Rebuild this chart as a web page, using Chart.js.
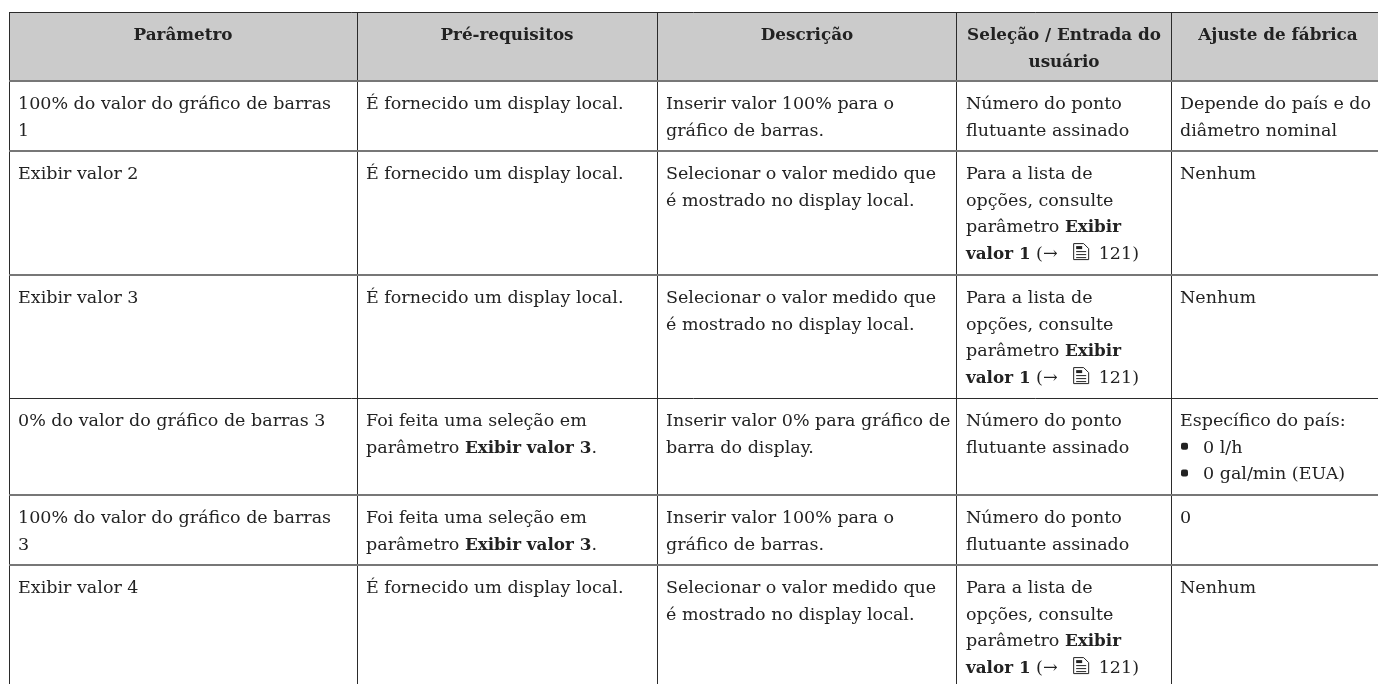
<!DOCTYPE html>
<html lang="pt">
<head>
<meta charset="utf-8">
<title>Parâmetros do display</title>
<style>
  html, body { margin: 0; padding: 0; background: #fff; overflow: hidden; }
  canvas { display: block; }
</style>
</head>
<body>
<canvas id="tableChart" width="1378" height="684"></canvas>
<script src="https://cdn.jsdelivr.net/npm/chart.js@4/dist/chart.umd.js"></script>
<script>
const headers = [
  ["Parâmetro"],
  ["Pré-requisitos"],
  ["Descrição"],
  ["Seleção / Entrada do", "usuário"],
  ["Ajuste de fábrica"],
];

const listaOpcoes = ["Para a lista de", "opções, consulte", "parâmetro **Exibir**", "**valor 1** (→ {doc} 121)"];
const pontoFlutuante = ["Número do ponto", "flutuante assinado"];
const displayLocal = ["É fornecido um display local."];
const valorMedido = ["Selecionar o valor medido que", "é mostrado no display local."];
const selecaoFeita = ["Foi feita uma seleção em", "parâmetro **Exibir valor 3**."];

const parametros = [
  ["100% do valor do gráfico de barras", "1"],
  ["Exibir valor 2"],
  ["Exibir valor 3"],
  ["0% do valor do gráfico de barras 3"],
  ["100% do valor do gráfico de barras", "3"],
  ["Exibir valor 4"],
];
const prerequisitos = [displayLocal, displayLocal, displayLocal, selecaoFeita, selecaoFeita, displayLocal];
const descricoes = [
  ["Inserir valor 100% para o", "gráfico de barras."],
  valorMedido,
  valorMedido,
  ["Inserir valor 0% para gráfico de", "barra do display."],
  ["Inserir valor 100% para o", "gráfico de barras."],
  valorMedido,
];
const selecoes = [pontoFlutuante, listaOpcoes, listaOpcoes, pontoFlutuante, pontoFlutuante, listaOpcoes];
const ajustes = [
  ["Depende do país e do", "diâmetro nominal"],
  ["Nenhum"],
  ["Nenhum"],
  ["Específico do país:", "{bullet}0 l/h", "{bullet}0 gal/min (EUA)"],
  ["0"],
  ["Nenhum"],
];
const columns = [parametros, prerequisitos, descricoes, selecoes, ajustes];

// Bordas da tabela, em unidades dos eixos (a última coluna passa da janela)
const columnEdges = [9, 357, 657, 957, 1171, 1385];
const rowEdges = [12, 81, 151, 275, 398, 495, 565];
const thinRows = [12, 398];

const FONT = '"DejaVu Serif"';
const FONT_SIZE = 17.5;
const BOLD_SIZE = 16.8;
const LINE_HEIGHT = 26.7;
const FIRST_BASELINE = 28;
const CELL_PADDING = 9;
const BULLET_INDENT = 23;

function setFont(ctx, bold) {
  ctx.font = bold ? `bold ${BOLD_SIZE}px ${FONT}` : `${FONT_SIZE}px ${FONT}`;
}

function drawDocIcon(ctx, x, baseline) {
  const top = baseline - 16;
  ctx.save();
  ctx.strokeStyle = "#222";
  ctx.lineWidth = 1;
  ctx.beginPath();
  ctx.moveTo(x + 0.5, top + 0.5);
  ctx.lineTo(x + 10.5, top + 0.5);
  ctx.lineTo(x + 15.5, top + 5.5);
  ctx.lineTo(x + 15.5, top + 16.5);
  ctx.lineTo(x + 0.5, top + 16.5);
  ctx.closePath();
  ctx.stroke();
  ctx.fillStyle = "#222";
  ctx.fillRect(x + 3, top + 3, 6, 3);
  ctx.fillRect(x + 3, top + 8, 10, 1);
  ctx.fillRect(x + 3, top + 11, 10, 1);
  ctx.fillRect(x + 3, top + 14, 10, 1);
  ctx.restore();
}

// Desenha uma linha com trechos em negrito (**...**) e os marcadores {doc} e {bullet}
function drawLine(ctx, line, x, baseline) {
  let cursor = x;
  if (line.startsWith("{bullet}")) {
    ctx.fillStyle = "#222";
    ctx.beginPath();
    ctx.roundRect(x + 1, baseline - 10, 7, 7, 2);
    ctx.fill();
    cursor += BULLET_INDENT;
    line = line.slice(8);
  }
  line.split("**").forEach((part, i) => {
    setFont(ctx, i % 2 === 1);
    part.split("{doc}").forEach((text, j) => {
      if (j > 0) {
        drawDocIcon(ctx, cursor + 10, baseline);
        cursor += 30;
      }
      ctx.fillStyle = "#222";
      ctx.textAlign = "left";
      ctx.fillText(text, cursor, baseline);
      cursor += ctx.measureText(text).width;
    });
  });
}

const cellTextPlugin = {
  id: "cellText",
  afterDatasetsDraw(chart) {
    const { ctx, scales: { x, y } } = chart;
    ctx.save();
    ctx.textBaseline = "alphabetic";

    headers.forEach((lines, c) => {
      const center = x.getPixelForValue((columnEdges[c] + columnEdges[c + 1]) / 2);
      lines.forEach((line, l) => {
        setFont(ctx, true);
        ctx.fillStyle = "#222";
        ctx.textAlign = "center";
        ctx.fillText(line, center, y.getPixelForValue(rowEdges[0] + FIRST_BASELINE + l * LINE_HEIGHT));
      });
    });

    columns.forEach((cells, c) => {
      const left = x.getPixelForValue(columnEdges[c] + CELL_PADDING);
      cells.forEach((lines, r) => {
        lines.forEach((line, l) => {
          drawLine(ctx, line, left, y.getPixelForValue(rowEdges[r + 1] + FIRST_BASELINE + l * LINE_HEIGHT));
        });
      });
    });
    ctx.restore();
  },
};

new Chart(document.getElementById("tableChart"), {
  type: "scatter",
  data: {
    datasets: [
      {
        // Faixa cinza do cabeçalho
        data: [
          { x: 0, y: rowEdges[1] },
          { x: 1378, y: rowEdges[1] },
        ],
        showLine: true,
        pointRadius: 0,
        borderWidth: 0,
        backgroundColor: "#cbcbcb",
        fill: { value: rowEdges[0] },
      },
    ],
  },
  options: {
    responsive: false,
    animation: false,
    layout: { padding: { left: 9, top: 12, right: 0, bottom: 0 } },
    plugins: { legend: { display: false }, tooltip: { enabled: false } },
    scales: {
      x: {
        type: "linear",
        min: 9,
        max: 1378,
        afterBuildTicks: (axis) => {
          axis.ticks = columnEdges.filter((v) => v < 1378).map((value) => ({ value }));
        },
        ticks: { display: false },
        border: { display: false },
        grid: { z: 1, color: "#2b2b2b", lineWidth: 1, drawTicks: false },
      },
      y: {
        type: "linear",
        reverse: true,
        min: 12,
        max: 684,
        afterBuildTicks: (axis) => {
          axis.ticks = rowEdges.map((value) => ({ value }));
        },
        ticks: { display: false },
        border: { display: false },
        grid: {
          z: 1,
          drawTicks: false,
          color: (c) => (thinRows.includes(c.tick.value) ? "#2b2b2b" : "#777777"),
          lineWidth: (c) => (thinRows.includes(c.tick.value) ? 1 : 2),
        },
      },
    },
  },
  plugins: [cellTextPlugin],
});
</script>
</body>
</html>
